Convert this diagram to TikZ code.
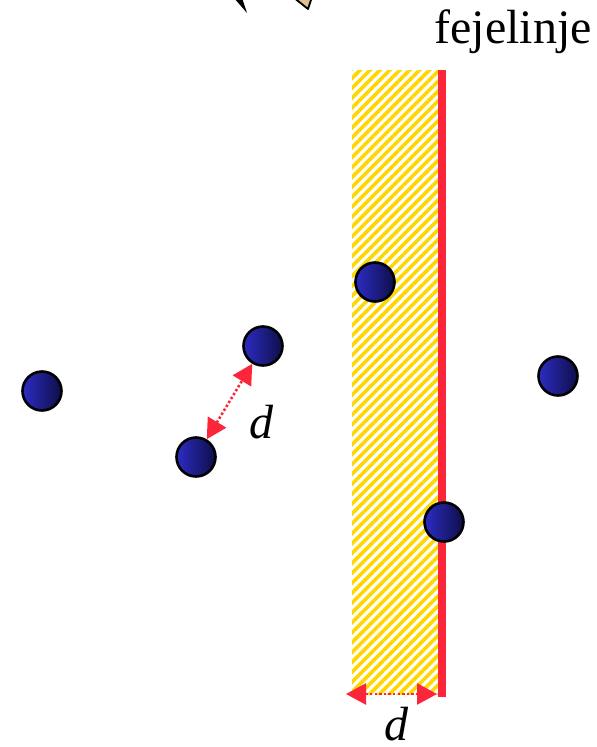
\documentclass[tikz,border=0pt]{standalone}
\usepackage{fontspec}
\setmainfont{Liberation Serif}
\usepackage{tikz}
\usetikzlibrary{arrows.meta, patterns.meta}

\definecolor{balllight}{RGB}{44,44,196}
\definecolor{balldark}{RGB}{14,14,72}
\definecolor{edgered}{RGB}{252,38,58}
\definecolor{hatchgold}{RGB}{255,214,0}
\definecolor{tan}{RGB}{222,192,140}

\tikzset{
  ball/.style={circle, draw=black, line width=2.6pt, minimum size=39pt,
    inner sep=0pt, left color=balllight, right color=balldark},
  dimarrow/.style={edgered, line width=2.6pt, dash pattern=on 2.4pt off 2.2pt,
    {Triangle[length=20pt,width=21pt]}-{Triangle[length=20pt,width=21pt]}},
  label/.style={font=\fontsize{48}{52}\selectfont, inner sep=0pt, anchor=base}
}

\begin{document}
\begin{tikzpicture}[x=1pt, y=-1pt]
    \useasboundingbox (0,0) rectangle (597,747);
    \begin{scope}
    \clip (0,0) rectangle (597,747);
    % tips of the cut-off figure at the top
    \fill[black] (234,-2) -- (242,-2) -- (247,13) -- cycle;
    \filldraw[fill=tan, draw=black, line width=1.8pt, line join=round]
      (293,-3) -- (312,-3) -- (308,9) -- cycle;
    \end{scope}

    % the band next to the edge line
    \fill[pattern={Lines[angle=45, distance=7pt, line width=3.6pt]}, pattern color=hatchgold]
      (352,70) rectangle (439,694);
    \coordinate (edgetop) at (442,70);
    \coordinate (edgebot) at (442,697);
    \draw[edgered, line width=7.5pt] (edgetop) -- (edgebot);
    \node[label] (edgename) at (513,43) {fejelinje};

    % particles
    \node[ball] (p1) at (42,391) {};
    \node[ball] (p2) at (263,346) {};
    \node[ball] (p3) at (196,457) {};
    \node[ball] (p4) at (375,282) {};
    \node[ball] (p5) at (558,376) {};
    \node[ball] (p6) at (444,522) {};

    % distances
    \draw[dimarrow] (p3) -- (p2);
    \node[label] (dpair) at (261,438) {\itshape d};
    \coordinate (dleft) at (346,694);
    \coordinate (dright) at (437,694);
    \draw[dimarrow] (dleft) -- (dright);
    \node[label] (dband) at (396,740) {\itshape d};
\end{tikzpicture}
\end{document}
